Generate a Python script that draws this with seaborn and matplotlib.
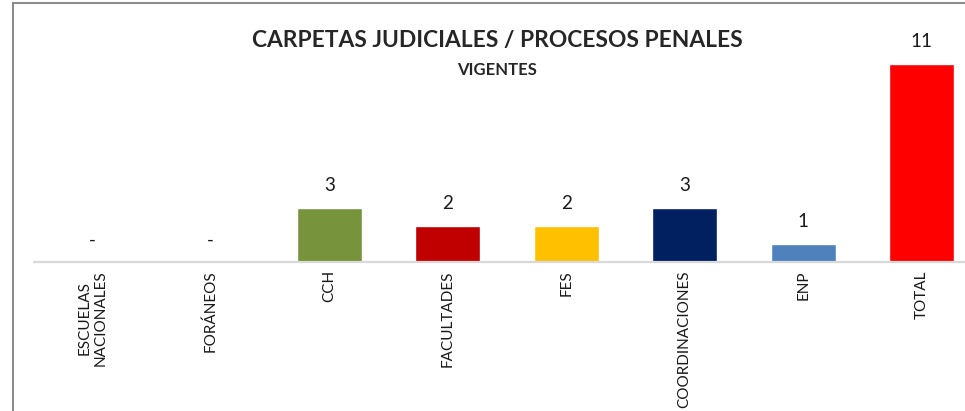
import matplotlib
matplotlib.use("Agg")
import matplotlib.pyplot as plt
import seaborn as sns
import pandas as pd
from matplotlib.lines import Line2D

categories = ["ESCUELAS\nNACIONALES", "FORÁNEOS", "CCH", "FACULTADES", "FES",
              "COORDINACIONES", "ENP", "TOTAL"]
values = [0, 0, 3, 2, 2, 3, 1, 11]
colors = ["#77933C", "#77933C", "#77933C", "#C00000", "#FFC000",
          "#002060", "#4F81BD", "#FF0000"]

sns.set_style("white")
plt.rcParams['font.family'] = ['Lato', 'DejaVu Sans']

df = pd.DataFrame({"cat": categories, "val": values})

fig = plt.figure(figsize=(9.65, 4.11), dpi=100)
W, H = 965, 411
ax = fig.add_axes([33 / W, 149 / H, (981 - 33) / W, 216 / H])

sns.barplot(x="cat", y="val", data=df, hue="cat", palette=colors,
            legend=False, width=0.55, ax=ax, saturation=1)
ax.set_xlim(-0.5, 7.5)
ax.set_ylim(0, 12)
ax.set(xlabel="", ylabel="")
ax.set_yticks([])
for s in ["top", "right", "left", "bottom"]:
    ax.spines[s].set_visible(False)
# category axis line
ax.hlines(0, -0.5, 7.5, color="#d9d9d9", lw=1.6, clip_on=False, zorder=3)
ax.tick_params(axis="x", length=0, pad=6)
plt.setp(ax.get_xticklabels(), rotation=90, ha="center", va="top",
         fontsize=11, color="#1a1a1a", multialignment="center")

for i, v in enumerate(values):
    lbl = "-" if v == 0 else str(v)
    ax.annotate(lbl, (i, v), xytext=(0, 16), textcoords="offset points",
                ha="center", va="center", fontsize=13.5, color="#1a1a1a")

fig.text(497 / W, 1 - 40 / H, "CARPETAS JUDICIALES / PROCESOS PENALES",
         ha="center", va="center", fontsize=16.4, fontweight="bold")
fig.text(497 / W, 1 - 70 / H, "VIGENTES", ha="center", va="center",
         fontsize=12, fontweight="bold")

# chart frame (only the left and top edges are visible in the crop)
fig.add_artist(Line2D([12.5 / W, 12.5 / W], [0, 1 - 3 / H], color="#8c8c8c", lw=1.5))
fig.add_artist(Line2D([12.5 / W, 1], [1 - 3 / H, 1 - 3 / H], color="#8c8c8c", lw=1.5))

fig.savefig("out.png", dpi=100)
